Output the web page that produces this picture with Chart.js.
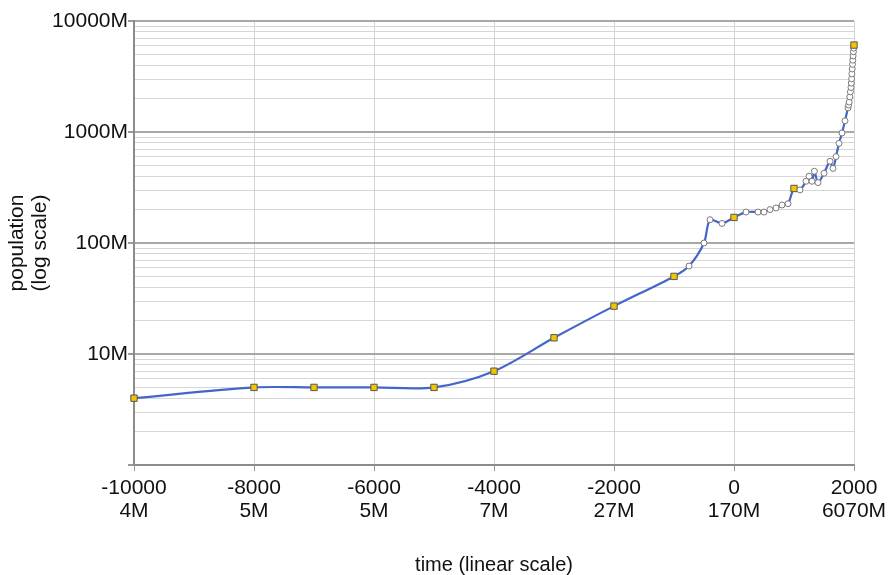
<!DOCTYPE html>
<html>
<head>
<meta charset="utf-8">
<title>World population, log scale</title>
<script src="https://cdn.jsdelivr.net/npm/chart.js@4/dist/chart.umd.min.js"></script>
<style>
  html, body { margin: 0; padding: 0; background: #fff; }
  #wrap { width: 894px; height: 575px; }
</style>
</head>
<body>
<div id="wrap"><canvas id="popChart" width="894" height="575"></canvas></div>
<script>
// years and world population estimates (millions)
const years = [
  -10000, -8000, -7000, -6000, -5000, -4000, -3000, -2000, -1000, -750,
  -500, -400, -200, 0, 200, 400, 500, 600, 700, 800,
  900, 1000, 1100, 1200, 1250, 1300, 1340, 1400, 1500, 1600,
  1650, 1700, 1750, 1800, 1850, 1900, 1910, 1920, 1930, 1940,
  1950, 1955, 1960, 1965, 1970, 1975, 1980, 1985, 1990, 1995, 2000
];
const population = [
  4, 5, 5, 5, 5, 7, 14, 27, 50, 62,
  100, 162, 150, 170, 190, 190, 190, 200, 207, 220,
  226, 310, 301, 360, 400, 360, 443, 350, 425, 545,
  470, 600, 790, 980, 1260, 1650, 1750, 1860, 2070, 2300,
  2520, 2760, 3020, 3340, 3700, 4070, 4440, 4850, 5290, 5700, 6070
];

// years drawn with the yellow square marker
const keyYears = [-10000, -8000, -7000, -6000, -5000, -4000, -3000, -2000, -1000, 0, 1000, 2000];

// x axis ticks: year on the first line, population on the second
const yearTicks = [-10000, -8000, -6000, -4000, -2000, 0, 2000];
const yearTickPop = ["4M", "5M", "5M", "7M", "27M", "170M", "6070M"];

// y axis: labelled decades, gridlines at 1..9 of each decade
const decadeLabels = [10, 100, 1000, 10000];
const yTickValues = [];
for (let d = 1; d < 10000; d *= 10) {
  for (let k = 1; k < 10; k++) yTickValues.push(k * d);
}
yTickValues.push(10000);

const FONT = "'Liberation Sans', Arial, Helvetica, sans-serif";
const isKey = i => keyYears.includes(years[i]);
const isDecade = v => [1, 10, 100, 1000, 10000].includes(v);

const ctx = document.getElementById("popChart").getContext("2d");

new Chart(ctx, {
  type: "line",
  data: {
    datasets: [{
      data: years.map((y, i) => ({ x: y, y: population[i] })),
      borderColor: "#4466c8",
      borderWidth: 2.2,
      tension: 0.3,
      clip: false,
      pointStyle: population.map((_, i) => isKey(i) ? "rect" : "circle"),
      pointRadius: population.map((_, i) => isKey(i) ? 4.5 : 3),
      pointBackgroundColor: population.map((_, i) => isKey(i) ? "#f2c500" : "#ffffff"),
      pointBorderColor: population.map((_, i) => isKey(i) ? "#555" : "#7a7a7a"),
      pointBorderWidth: 1
    }]
  },
  options: {
    responsive: false,
    animation: false,
    events: [],
    layout: { padding: { top: 21, right: 40, bottom: 0, left: 0 } },
    plugins: {
      legend: { display: false },
      tooltip: { enabled: false }
    },
    scales: {
      x: {
        type: "linear",
        min: -10000,
        max: 2000,
        afterBuildTicks: scale => { scale.ticks = yearTicks.map(v => ({ value: v })); },
        afterFit: scale => { scale.height = 110; },
        grid: { color: "#d4d4d4", lineWidth: 1, tickLength: 6, tickColor: "#999" },
        border: { color: "#8c8c8c", width: 2 },
        ticks: {
          autoSkip: false,
          maxRotation: 0,
          padding: 6,
          color: "#111",
          font: { family: FONT, size: 21, lineHeight: 1.1 },
          callback: (value, index) => [String(value), yearTickPop[index]]
        },
        title: {
          display: true,
          text: "time (linear scale)",
          color: "#111",
          font: { family: FONT, size: 20, lineHeight: 1 },
          padding: { top: 0, bottom: 0 }
        }
      },
      y: {
        type: "logarithmic",
        min: 1,
        max: 10000,
        afterBuildTicks: scale => { scale.ticks = yTickValues.map(v => ({ value: v })); },
        afterFit: scale => { scale.width = 134; },
        grid: {
          color: c => isDecade(c.tick.value) ? "#a8a8a8" : "#d6d6d6",
          lineWidth: c => isDecade(c.tick.value) ? 2 : 1,
          tickLength: 6,
          tickColor: c => isDecade(c.tick.value) ? "#999" : "rgba(0,0,0,0)"
        },
        border: { color: "#8c8c8c", width: 2 },
        ticks: {
          autoSkip: false,
          padding: 0,
          color: "#111",
          font: { family: FONT, size: 21 },
          callback: value => decadeLabels.includes(value) ? value + "M" : ""
        },
        title: {
          display: true,
          text: ["population", "(log scale)"],
          color: "#111",
          font: { family: FONT, size: 21, lineHeight: 1.1 },
          padding: { top: 6, bottom: 0 }
        }
      }
    }
  }
});
</script>
</body>
</html>
